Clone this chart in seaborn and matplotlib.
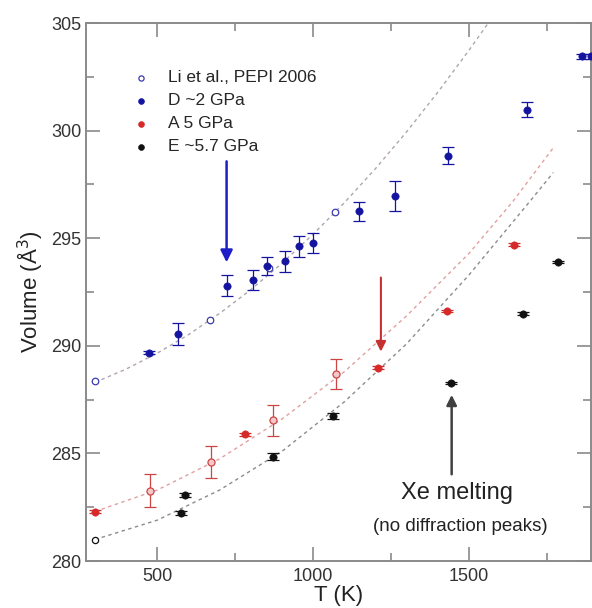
import numpy as np
import pandas as pd
import matplotlib
matplotlib.use("Agg")
import matplotlib.pyplot as plt
from matplotlib.ticker import MultipleLocator
import seaborn as sns

# Li et al., PEPI 2006 (open blue circles)
li_T = [300, 670, 859, 1070]
li_V = [288.35, 291.2, 293.6, 296.2]

# D ~2 GPa
d_T = [473, 567, 722, 808, 851, 909, 954, 1000, 1147, 1262, 1431, 1685, 1863, 1890]
d_V = [289.68, 290.56, 292.8, 293.05, 293.7, 293.92, 294.62, 294.78, 296.25, 296.97, 298.84, 300.98, 303.45, 303.45]
d_err = [0.08, 0.5, 0.5, 0.48, 0.42, 0.5, 0.5, 0.47, 0.45, 0.7, 0.4, 0.36, 0.1, 0.1]

# A 5 GPa (filled points)
a_T = [300, 781, 1209, 1430, 1643]
a_V = [282.29, 285.89, 288.99, 291.63, 294.7]
a_err = [0.08, 0.08, 0.08, 0.05, 0.08]
# A 5 GPa (lighter points, large error)
a2_T = [475, 672, 872, 1073]
a2_V = [283.26, 284.6, 286.53, 288.7]
a2_err = [0.76, 0.75, 0.7, 0.7]

# E ~5.7 GPa
e_T = [576, 587, 870, 1064, 1442, 1674, 1786]
e_V = [282.22, 283.07, 284.85, 286.75, 288.29, 291.5, 293.9]
e_err = [0.1, 0.1, 0.15, 0.15, 0.05, 0.05, 0.05]
e0_T = [300]
e0_V = [280.98]

# dotted guide curves
fitD_T = [300, 400, 500, 600, 700, 800, 900, 1000, 1100, 1200, 1300, 1400, 1500, 1560]
fitD_V = [288.3, 288.92, 289.66, 290.52, 291.51, 292.61, 293.84, 295.19, 296.65, 298.24, 299.95, 301.79, 303.74, 304.97]
fitA_T = [300, 500, 700, 900, 1100, 1300, 1500, 1640, 1770]
fitA_V = [282.3, 283.3, 284.75, 286.6, 288.8, 291.4, 294.3, 296.7, 299.2]
fitE_T = [300, 500, 700, 900, 1100, 1300, 1500, 1700, 1770]
fitE_V = [281.0, 281.9, 283.3, 285.1, 287.4, 290.1, 293.3, 296.8, 298.05]

BLUE = "#1414a0"
RED = "#d42a2a"
BLACK = "#111111"
GRAY = "#8a8a8a"

sns.set_style("ticks")
plt.rcParams["font.family"] = ["Liberation Sans", "DejaVu Sans"]

fig = plt.figure(figsize=(5.92, 6.08), dpi=100)
ax = fig.add_axes([86 / 592, 47 / 608, 505 / 592, 538 / 608])

# guide curves
for tt, vv, col in [(fitD_T, fitD_V, "#b0a4b0"), (fitA_T, fitA_V, "#e0a0a0"), (fitE_T, fitE_V, "#8c8c8c")]:
    sns.lineplot(x=tt, y=vv, ax=ax, color=col, lw=1.0, linestyle=(0, (2.5, 2.5)),
                 sort=False, estimator=None)

# error bars
ax.errorbar(d_T, d_V, yerr=d_err, fmt="none", ecolor=BLUE, elinewidth=0.9, capsize=4.5, capthick=0.9)
ax.errorbar(a_T, a_V, yerr=a_err, fmt="none", ecolor=RED, elinewidth=0.9, capsize=4.5, capthick=0.9)
ax.errorbar(a2_T, a2_V, yerr=a2_err, fmt="none", ecolor="#cc4444", elinewidth=0.9, capsize=4.5, capthick=0.9)
ax.errorbar(e_T, e_V, yerr=e_err, fmt="none", ecolor=BLACK, elinewidth=0.9, capsize=4.5, capthick=0.9)

# points
sns.scatterplot(x=li_T, y=li_V, ax=ax, marker="o", s=22, facecolor="white", edgecolor="#3a3ab0",
                linewidth=0.9, label="Li et al., PEPI 2006", zorder=5)
sns.scatterplot(x=d_T, y=d_V, ax=ax, marker="o", s=28, color=BLUE, edgecolor=BLUE,
                label="D ~2 GPa", zorder=5)
sns.scatterplot(x=a_T, y=a_V, ax=ax, marker="o", s=28, color=RED, edgecolor=RED,
                label="A 5 GPa", zorder=5)
sns.scatterplot(x=a2_T, y=a2_V, ax=ax, marker="o", s=26, facecolor="#f4c8c8", edgecolor="#cc4444",
                linewidth=0.9, zorder=5)
sns.scatterplot(x=e_T, y=e_V, ax=ax, marker="o", s=28, color=BLACK, edgecolor=BLACK,
                label="E ~5.7 GPa", zorder=5)
sns.scatterplot(x=e0_T, y=e0_V, ax=ax, marker="o", s=20, facecolor="white", edgecolor=BLACK,
                linewidth=0.9, zorder=5)

# arrows
ax.annotate("", xy=(722, 293.75), xytext=(722, 298.7),
            arrowprops=dict(arrowstyle="-|>", color="#1e1ec8", lw=1.8, mutation_scale=18))
ax.annotate("", xy=(1217, 289.6), xytext=(1217, 293.3),
            arrowprops=dict(arrowstyle="-|>", color="#c83030", lw=1.5, mutation_scale=15))
ax.annotate("", xy=(1444, 287.85), xytext=(1444, 283.9),
            arrowprops=dict(arrowstyle="-|>", color="#404040", lw=1.8, mutation_scale=15))

ax.text(1460, 283.15, "Xe melting", ha="center", va="center", fontsize=17, color="#222222")
ax.text(1472, 281.6, "(no diffraction peaks)", ha="center", va="center", fontsize=13.5, color="#222222")

ax.set_xlim(271, 1891)
ax.set_ylim(280, 305)
ax.xaxis.set_major_locator(MultipleLocator(500))
ax.xaxis.set_minor_locator(MultipleLocator(250))
ax.yaxis.set_major_locator(MultipleLocator(5))
ax.yaxis.set_minor_locator(MultipleLocator(2.5))
ax.tick_params(which="both", direction="in", top=True, right=True, color=GRAY, width=1.2,
               labelsize=13, labelcolor="#333333")
ax.tick_params(which="major", length=10)
ax.tick_params(which="minor", length=6)
ax.tick_params(axis="x", which="major", pad=5)
for sp in ax.spines.values():
    sp.set_color(GRAY)
    sp.set_linewidth(1.4)

ax.set_xlabel("T (K)", fontsize=16, labelpad=0, color="#222222")
ax.set_ylabel("Volume (Å$^3$)", fontsize=16, labelpad=4, color="#222222")

leg = ax.legend(loc="upper left", bbox_to_anchor=(0.06, 0.925), frameon=False, fontsize=12.5,
                handletextpad=0.6, labelspacing=0.45, markerscale=0.8, borderaxespad=0)

fig.savefig("out.png", dpi=100)
